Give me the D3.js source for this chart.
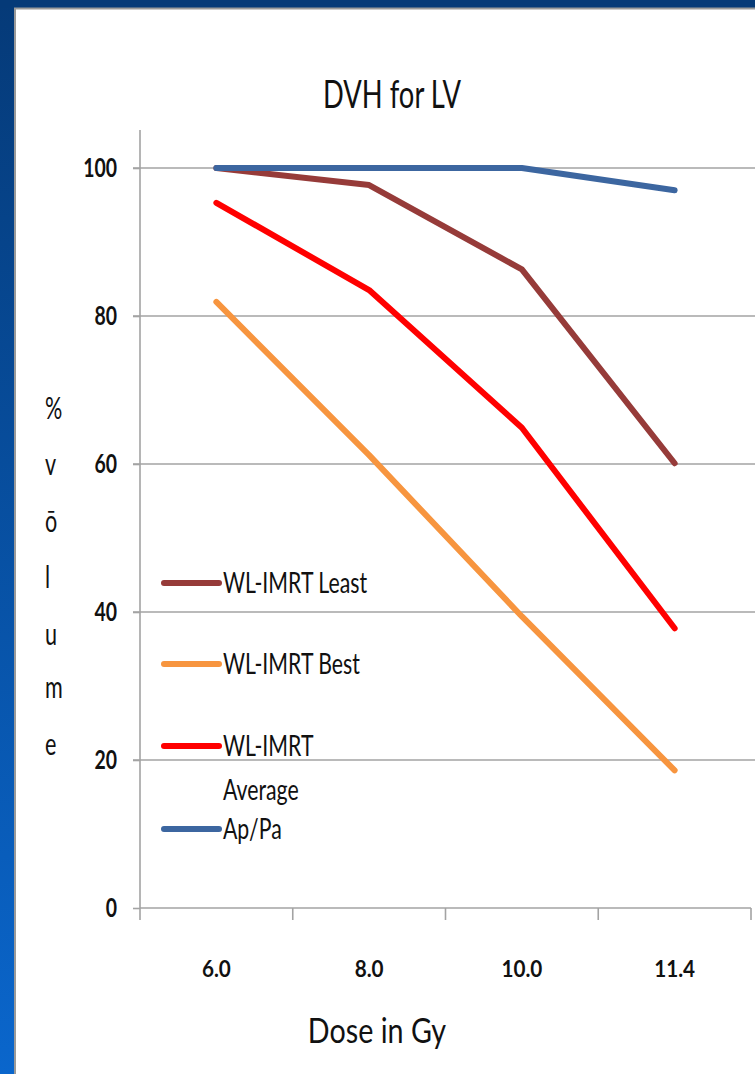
<!DOCTYPE html>
<html>
<head>
<meta charset="utf-8">
<script src="https://cdn.jsdelivr.net/npm/d3@7"></script>
<style>
  html, body { margin: 0; padding: 0; background: #fff; }
  svg { display: block; }
  text { font-family: Lato, "Open Sans", "Liberation Sans", sans-serif; fill: #111; }
</style>
</head>
<body>
<svg id="chart" width="755" height="1074"></svg>
<script>
// Dose levels (Gy) along the x axis
const doses = ["6.0", "8.0", "10.0", "11.4"];
// % volume of LV receiving each dose, per plan
const least   = [100, 97.7, 86.3, 60.1];
const best    = [81.9, 61.2, 39.4, 18.6];
const average = [95.3, 83.5, 64.9, 37.8];
const apPa    = [100, 100, 100, 97.0];
const yTicks  = [0, 20, 40, 60, 80, 100];
const seriesNames = ["WL-IMRT Least", "WL-IMRT Best", "WL-IMRT Average", "Ap/Pa"];

const series = [
  { name: seriesNames[0], values: least,   color: "#963b39" },
  { name: seriesNames[1], values: best,    color: "#f7953f" },
  { name: seriesNames[2], values: average, color: "#ff0000" },
  { name: seriesNames[3], values: apPa,    color: "#3c66a0" }
];

const svg = d3.select("#chart");
const W = 755, H = 1074;
const SX = 0.72; // condensed text

// slide frame: dark blue top band and gradient left band
const defs = svg.append("defs");
const grad = defs.append("linearGradient").attr("id", "sideGrad")
  .attr("x1", 0).attr("y1", 0).attr("x2", 0).attr("y2", 1);
grad.append("stop").attr("offset", "0%").attr("stop-color", "#053a78");
grad.append("stop").attr("offset", "100%").attr("stop-color", "#0a66cc");

svg.append("rect").attr("x", 0).attr("y", 0).attr("width", W).attr("height", H).attr("fill", "#fff");
svg.append("rect").attr("x", 0).attr("y", 0).attr("width", 15).attr("height", H).attr("fill", "url(#sideGrad)");
svg.append("rect").attr("x", 0).attr("y", 0).attr("width", W).attr("height", 8).attr("fill", "#053a78");
svg.append("path").attr("d", `M15,${H} V8.5 H${W}`)
  .attr("fill", "none").attr("stroke", "#9a9a9a").attr("stroke-width", 2);

// scales
const plotLeft = 140, plotRight = 751, plotTop = 130;
const x = d3.scaleBand().domain(doses).range([plotLeft, plotRight]);
const xc = d => x(d) + x.bandwidth() / 2;
const y = d3.scaleLinear().domain([0, 100]).range([908, 168]);

// condensed text helper
function label(g, tx, ty, str, size, anchor, weight, sx) {
  return g.append("text")
    .attr("transform", `translate(${tx},${ty}) scale(${sx || SX},1)`)
    .attr("text-anchor", anchor || "start")
    .attr("font-size", size)
    .attr("font-weight", weight || "normal")
    .text(str);
}

// gridlines
const grid = svg.append("g");
grid.selectAll("line").data(yTicks.filter(t => t > 0)).join("line")
  .attr("x1", plotLeft - 7).attr("x2", W)
  .attr("y1", d => y(d)).attr("y2", d => y(d))
  .attr("stroke", "#a3a3a3").attr("stroke-width", 1.6);

// y axis
const yAxis = svg.append("g")
  .attr("transform", `translate(${plotLeft},0)`)
  .call(d3.axisLeft(y).tickValues(yTicks).tickSize(7).tickFormat(""));
yAxis.select(".domain").remove();
yAxis.selectAll("line").attr("stroke", "#a3a3a3").attr("stroke-width", 1.6);
svg.append("line").attr("x1", plotLeft).attr("x2", plotLeft)
  .attr("y1", plotTop).attr("y2", y(0))
  .attr("stroke", "#a3a3a3").attr("stroke-width", 1.6);
yTicks.forEach(t => label(svg, 117, y(t) + 9, String(t), 27, "end", "bold"));

// x axis
svg.append("line").attr("x1", plotLeft).attr("x2", plotRight)
  .attr("y1", y(0)).attr("y2", y(0))
  .attr("stroke", "#a3a3a3").attr("stroke-width", 1.6);
const edges = doses.map(d => x(d)).concat([x(doses[doses.length - 1]) + x.bandwidth()]);
svg.append("g").selectAll("line").data(edges).join("line")
  .attr("x1", d => d).attr("x2", d => d)
  .attr("y1", y(0)).attr("y2", y(0) + 12)
  .attr("stroke", "#a3a3a3").attr("stroke-width", 1.6);
doses.forEach(d => label(svg, xc(d), 977, d, 23, "middle", "bold", 0.9));

// titles
label(svg, 392, 108, "DVH for LV", 38, "middle");
label(svg, 377, 1043, "Dose in Gy", 35, "middle", "normal", 0.82);
const yTitle = ["%", "v", "ō", "l", "u", "m", "e"];
const yTitleY = [419, 475, 532, 588, 645, 698, 755];
yTitle.forEach((c, i) => label(svg, 45, yTitleY[i], c, 30, "start"));

// series lines
const line = d3.line().x((v, i) => xc(doses[i])).y(v => y(v));
svg.append("g").selectAll("path").data(series).join("path")
  .attr("d", s => line(s.values))
  .attr("fill", "none")
  .attr("stroke", s => s.color)
  .attr("stroke-width", 6)
  .attr("stroke-linecap", "round")
  .attr("stroke-linejoin", "round");

// legend
const legendRows = [
  { s: series[0], y: 583, lines: ["WL-IMRT Least"] },
  { s: series[1], y: 664, lines: ["WL-IMRT Best"] },
  { s: series[2], y: 746, lines: ["WL-IMRT", "Average"] },
  { s: series[3], y: 829, lines: ["Ap/Pa"] }
];
const lg = svg.append("g");
legendRows.forEach(r => {
  lg.append("line").attr("x1", 164).attr("x2", 219)
    .attr("y1", r.y).attr("y2", r.y)
    .attr("stroke", r.s.color).attr("stroke-width", 6).attr("stroke-linecap", "round");
  r.lines.forEach((t, k) => label(lg, 223, r.y + 10 + k * 44, t, 28, "start", "normal", 0.76));
});
</script>
</body>
</html>
